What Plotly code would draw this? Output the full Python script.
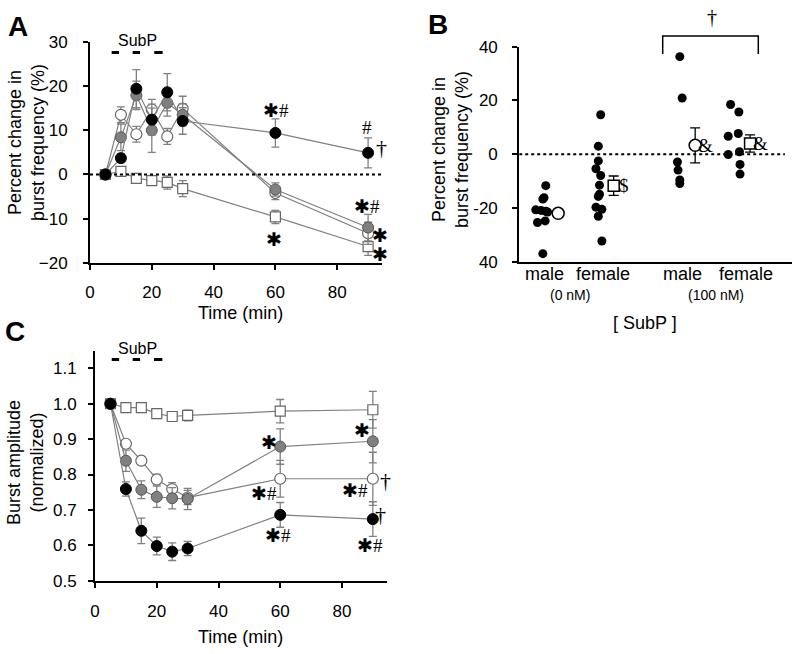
import plotly.graph_objects as go

# ---- panel A: percent change in burst frequency over time
times = [5, 10, 15, 20, 25, 30, 60, 90]

freq_black = [0, 3.7, 19.4, 12.4, 18.6, 12.1, 9.4, 4.9]
freq_black_err = [0, 1.0, 4.3, 3.5, 4.2, 3.0, 3.2, 3.4]
freq_gray = [0, 8.4, 17.9, 10.0, 16.2, 13.5, -3.4, -12.0]
freq_gray_err = [0, 3.0, 3.2, 5.0, 3.0, 2.5, 1.5, 3.0]
freq_white = [0, 13.5, 9.1, 14.7, 8.6, 14.9, -4.2, -13.3]
freq_white_err = [0, 1.8, 1.8, 2.3, 1.8, 2.8, 1.5, 2.5]
freq_square = [0, 0.7, -0.9, -1.4, -1.8, -3.2, -9.6, -16.3]
freq_square_err = [0, 0.5, 0.8, 1.0, 1.5, 1.8, 1.5, 2.0]

# ---- panel C: normalized burst amplitude
amp_black = [1.0, 0.759, 0.641, 0.598, 0.582, 0.591, 0.686, 0.674]
amp_black_err = [0, 0.02, 0.036, 0.025, 0.025, 0.02, 0.035, 0.049]
amp_gray = [1.0, 0.839, 0.757, 0.737, 0.733, 0.731, 0.879, 0.894]
amp_gray_err = [0, 0.03, 0.025, 0.03, 0.03, 0.03, 0.05, 0.061]
amp_white = [1.0, 0.887, 0.839, 0.786, 0.759, 0.735, 0.788, 0.788]
amp_white_err = [0, 0.01, 0.012, 0.015, 0.018, 0.02, 0.052, 0.075]
amp_square = [1.0, 0.989, 0.989, 0.972, 0.964, 0.967, 0.979, 0.983]
amp_square_err = [0, 0.005, 0.005, 0.005, 0.01, 0.015, 0.033, 0.052]

# ---- panel B: individual values per group
group_names = ["male", "female", "male", "female"]
group_pos = [0.40, 1.34, 2.72, 3.65]
male0 = [-11.7, -16.2, -16.7, -20.7, -20.9, -21.2, -21.5, -25.4, -24.8, -37.0]
male0_jit = [0.05, 0.02, 0, -0.12, -0.03, 0.05, 0.08, -0.09, 0.04, 0]
female0 = [14.7, 3.0, -2.5, -5.4, -7.9, -11.5, -14.9, -15.7, -19.7, -20.5, -23.1, -32.3]
female0_jit = [0.04, 0, 0, -0.04, 0.04, 0.02, 0.02, 0, -0.04, 0.06, 0, 0.06]
male100 = [36.3, 20.9, -2.9, -5.9, -9.6, -10.9]
male100_jit = [0, 0.04, -0.04, -0.03, 0, 0]
female100 = [18.5, 15.7, 6.7, 7.7, -0.1, 0.9, -3.8, -7.4]
female100_jit = [-0.07, 0.07, -0.11, 0.06, -0.11, 0.08, 0.09, 0.09]
group_mean = [-22.0, -11.7, 3.3, 4.0]
group_err = [1.5, 3.6, 6.5, 3.2]
group_sig = ["", "$", "&", "&"]

subp_A = [(7.0, 9.4), (13.8, 16.2), (20.8, 23.5)]
subp_C = [(5.4, 7.8), (12.2, 14.6), (19.1, 21.8)]

LINE = "#808080"
FONT = "Liberation Sans"
SERIF = "Liberation Serif"
W, H = 800, 654

fig = go.Figure()

styles = [
    dict(symbol="square", color="white", line=dict(color="#666666", width=1.2), size=10),
    dict(symbol="circle", color="white", line=dict(color="#666666", width=1.2), size=11),
    dict(symbol="circle", color="#808080", line=dict(color="#555555", width=1), size=11),
    dict(symbol="circle", color="black", line=dict(color="black", width=1), size=11),
]

def add_series(ys, errs, xa, ya, style):
    fig.add_trace(go.Scatter(
        x=times, y=ys, xaxis=xa, yaxis=ya, mode="lines+markers",
        line=dict(color=LINE, width=1.2), marker=style,
        error_y=dict(type="data", array=errs, color=LINE, thickness=1.3, width=4),
        showlegend=False, cliponaxis=False))

for ys, es, st in zip([freq_square, freq_white, freq_gray, freq_black],
                      [freq_square_err, freq_white_err, freq_gray_err, freq_black_err], styles):
    add_series(ys, es, "x", "y", st)

for ys, es, st in zip([amp_square, amp_white, amp_gray, amp_black],
                      [amp_square_err, amp_white_err, amp_gray_err, amp_black_err], styles):
    add_series(ys, es, "x3", "y3", st)

# panel B dots
for pos, vals, jit in zip(group_pos, [male0, female0, male100, female100],
                          [male0_jit, female0_jit, male100_jit, female100_jit]):
    fig.add_trace(go.Scatter(
        x=[pos + j for j in jit], y=vals, xaxis="x2", yaxis="y2", mode="markers",
        marker=dict(color="black", size=9), showlegend=False, cliponaxis=False))

mean_syms = ["circle", "square", "circle", "square"]
for pos, m, e, s in zip(group_pos, group_mean, group_err, mean_syms):
    fig.add_trace(go.Scatter(
        x=[pos + 0.26], y=[m], xaxis="x2", yaxis="y2", mode="markers",
        marker=dict(symbol=s, color="white", size=12 if s == "circle" else 11,
                    line=dict(color="black", width=1.5)),
        error_y=dict(type="data", array=[e], color="black", thickness=1.3, width=5),
        showlegend=False, cliponaxis=False))

axis_common = dict(showline=True, linecolor="black", linewidth=2, ticks="outside",
                   ticklen=5, tickwidth=2, tickcolor="black", showgrid=False,
                   zeroline=False, automargin=False,
                   tickfont=dict(family=FONT, size=17, color="black"))

fig.update_layout(
    width=W, height=H, margin=dict(l=0, r=0, t=0, b=0, autoexpand=False),
    plot_bgcolor="white", paper_bgcolor="white",
    font=dict(family=FONT, color="black"),
    xaxis=dict(axis_common, domain=[0.1125, 0.4775], range=[0, 94.5], anchor="y",
               tickvals=[0, 20, 40, 60, 80], ticklabelstandoff=8),
    yaxis=dict(axis_common, domain=[0.598, 0.936], range=[-20, 30], anchor="x",
               tickvals=[-20, -10, 0, 10, 20, 30], ticklabelstandoff=12),
    xaxis2=dict(axis_common, domain=[0.649, 0.99], range=[0, 4.62], anchor="y2",
                ticks="", showticklabels=False),
    yaxis2=dict(axis_common, domain=[0.5998, 0.9286], range=[-40, 40], anchor="x2",
                tickvals=[-40, -20, 0, 20, 40], ticktext=["40", "-20", "0", "20", "40"],
                ticklabelstandoff=11),
    xaxis3=dict(axis_common, domain=[0.1188, 0.4834], range=[0, 94.5], anchor="y3",
                tickvals=[0, 20, 40, 60, 80], ticklabelstandoff=9),
    yaxis3=dict(axis_common, domain=[0.1121, 0.4638], range=[0.5, 1.15], anchor="x3",
                tickvals=[0.5, 0.6, 0.7, 0.8, 0.9, 1.0, 1.1], tickformat=".1f",
                ticklabelstandoff=8),
)

shapes = []
shapes.append(dict(type="line", xref="x", yref="y", x0=0, x1=94.5, y0=0, y1=0,
                   line=dict(color="black", width=2, dash="dot")))
shapes.append(dict(type="line", xref="x2", yref="y2", x0=0, x1=4.5, y0=0, y1=0,
                   line=dict(color="black", width=2, dash="dot")))
for a, b in subp_A:
    shapes.append(dict(type="line", xref="x", yref="y", x0=a, x1=b, y0=27.6, y1=27.6,
                       line=dict(color="black", width=3)))
for a, b in subp_C:
    shapes.append(dict(type="line", xref="x3", yref="y3", x0=a, x1=b, y0=1.125, y1=1.125,
                       line=dict(color="black", width=3)))
# bracket over the 100 nM groups (paper coords, above the axis range)
bx0, bx1, btop, bleg = 662.7 / W, 758.3 / W, 1 - 36 / H, 1 - 54 / H
shapes.append(dict(type="path", xref="paper", yref="paper",
                   path=f"M {bx0} {bleg} L {bx0} {btop} L {bx1} {btop} L {bx1} {bleg}",
                   line=dict(color="black", width=1.5)))
fig.update_layout(shapes=shapes)

ann = []

def txt(x, y, t, xref="paper", yref="paper", size=17, family=FONT, angle=0, bold=False):
    ann.append(dict(x=x, y=y, xref=xref, yref=yref, text=("<b>%s</b>" % t) if bold else t,
                    showarrow=False, textangle=angle, xanchor="center", yanchor="middle",
                    font=dict(family=family, size=size, color="black")))

def px(x, y, t, **kw):
    txt(x / W, 1 - y / H, t, **kw)

# panel letters
px(18, 27, "A", size=28, bold=True)
px(438, 25, "B", size=28, bold=True)
px(15, 331, "C", size=28, bold=True)

# axis titles
px(26, 143, "Percent change in<br>burst frequency (%)", size=18, angle=-90)
px(451, 150, "Percent change in<br>burst frequency (%)", size=18, angle=-90)
px(25, 463, "Burst amplitude<br>(normalized)", size=18, angle=-90)
px(240, 313, "Time (min)", size=18)
px(240, 637, "Time (min)", size=18)

px(137.5, 41, "SubP", size=16)
px(137.5, 348, "SubP", size=16)

# panel B category labels
label_pos = [0.42, 1.42, 2.77, 3.84]
for p, n in zip(label_pos, group_names):
    ann.append(dict(x=p, y=1 - 274 / H, xref="x2", yref="paper", text=n, showarrow=False,
                    font=dict(family=FONT, size=18, color="black")))
for p, n in [(0.86, "(0 nM)"), (3.33, "(100 nM)")]:
    ann.append(dict(x=p, y=1 - 295 / H, xref="x2", yref="paper", text=n, showarrow=False,
                    font=dict(family=FONT, size=14, color="black")))
px(645, 323, "[ SubP ]", size=18)
for p, m, s in zip(group_pos, group_mean, group_sig):
    if s:
        ann.append(dict(x=p + 0.43, y=m, xref="x2", yref="y2", text=s, showarrow=False,
                        font=dict(family=SERIF, size=19, color="black")))
px(712, 17, "†", size=20, family=SERIF)

# significance marks panel A
STAR = "✱"
for x, y, t in [(60.2, 14.5, STAR + "#"), (89.5, 10.7, "#"), (89.6, -7.2, STAR + "#"),
                (93.9, -13.9, STAR), (93.9, -18.2, STAR), (59.7, -14.7, STAR)]:
    txt(x, y, t, "x", "y", size=19, family=SERIF)
txt(94.2, 6.2, "†", "x", "y", size=22, family=SERIF)

# significance marks panel C
for x, y, t in [(56.2, 0.891, STAR), (54.6, 0.745, STAR + "#"), (86.4, 0.924, STAR),
                (84.3, 0.754, STAR + "#"), (59.4, 0.627, STAR + "#"), (89.1, 0.599, STAR + "#")]:
    txt(x, y, t, "x3", "y3", size=19, family=SERIF)
txt(94.0, 0.783, "†", "x3", "y3", size=22, family=SERIF)
txt(92.6, 0.688, "†", "x3", "y3", size=22, family=SERIF)

fig.update_layout(annotations=ann)

fig.write_html("out.html", config={"displayModeBar": False},
               post_script="document.body.style.margin='0px';")
